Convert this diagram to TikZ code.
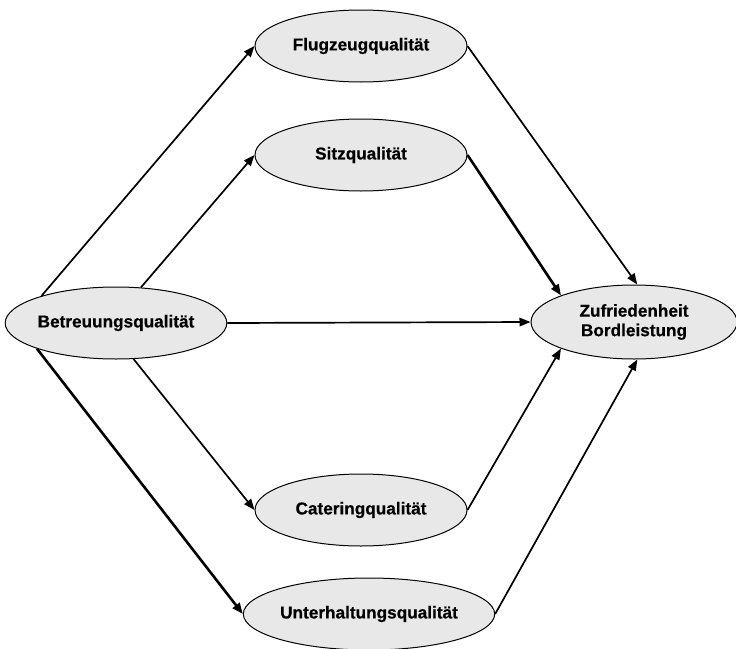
\documentclass[tikz,border=0pt]{standalone}
\usepackage{fontspec}
\setmainfont{Liberation Sans}[BoldFeatures={FakeBold=0.6}]
\usetikzlibrary{shapes.geometric,arrows.meta}
\definecolor{bubblefill}{HTML}{E8E8E8}
\tikzset{
  bubble/.style={ellipse, draw=black, line width=1pt, fill=bubblefill,
    minimum width=212pt, minimum height=72pt, inner sep=0pt,
    font=\fontsize{17.2}{19.5}\selectfont\bfseries, align=center},
  link/.style={draw=black, line width=1.7pt,
    -{Triangle[length=11pt,width=8.5pt]}},
  heavylink/.style={link, line width=2.6pt}
}
\begin{document}
\begin{tikzpicture}[x=1pt,y=-1pt]
  \useasboundingbox (0,0) rectangle (736,648);
  \clip (0,0) rectangle (736,648);

  \node[bubble] (flug) at (361,46)  {Flugzeugqualität};
  \node[bubble] (sitz) at (361,155) {Sitzqualität};
  \node[bubble] (betr) at (116,323) {Betreuungsqualität};
  \node[bubble, minimum width=206pt, minimum height=74pt] (zuf) at (634,322) {Zufriedenheit\\Bordleistung};
  \node[bubble] (cat)  at (361,510) {Cateringqualität};
  \node[bubble] (unt)  at (369,614) {Unterhaltungsqualität};

  % influences of the service quality
  \draw[link]      (betr.160.6) -- (flug.west);
  \draw[link]      (betr.55.6)  -- (sitz.west);
  \draw[link]      (betr.east)  -- (zuf.west);
  \draw[link]      (betr.-64)   -- (cat.west);
  \draw[heavylink] (betr.198.7) -- (unt.west);

  % paths into overall satisfaction
  \draw[link]      (flug.east) -- (zuf.85.4);
  \draw[heavylink] (sitz.east) -- (zuf.160.1);
  \draw[link]      (cat.east)  -- (zuf.200.6);
  \draw[link]      (unt.east)  -- (zuf.275);
\end{tikzpicture}
\end{document}
